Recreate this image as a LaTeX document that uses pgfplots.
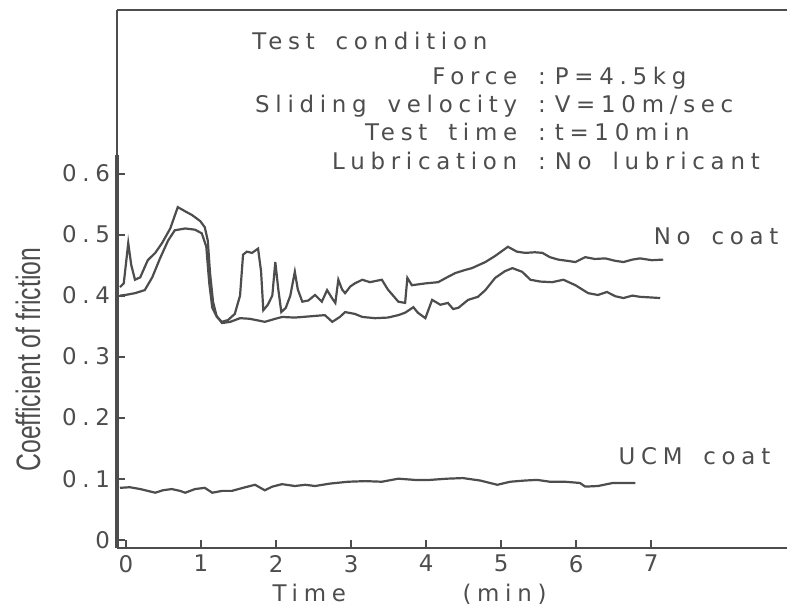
\documentclass[border=0pt]{standalone}
\usepackage{fontspec}
\usepackage{graphicx}
\setmainfont{DejaVu Sans}[LetterSpace=25, WordSpace=1.6]
\newfontfamily\labelfont{Liberation Sans}
\usepackage{pgfplots}
\pgfplotsset{compat=1.18}
\definecolor{ink}{HTML}{4D4D4D}
\pgfplotsset{trace/.style={ink, line width=1.1bp, mark=none}}

\begin{document}
\begin{tikzpicture}
\begin{axis}[
    name=ax,
    scale only axis, width=335bp, height=269bp,
    xmin=-0.12, xmax=8.81, ymin=-0.0136, ymax=0.868,
    axis x line*=bottom, axis y line*=left,
    axis line style={-},
    x axis line style={ink, line width=1.3bp},
    y axis line style={ink, line width=1bp},
    xtick={0,...,7},
    ytick={0,0.1,0.2,0.3,0.4,0.5,0.6},
    xticklabel={\pgfmathprintnumber[assume math mode=true]{\tick}},
    yticklabel={\pgfmathprintnumber[fixed, precision=1, assume math mode=true]{\tick}},
    tick align=inside, major tick length=4bp,
    tick style={ink, line width=1bp},
    ticklabel style={font=\fontsize{11.5}{13}\selectfont, text=ink},
    clip=false,
]
% upper "No coat" trace
\addplot[trace] coordinates {
(-0.08,0.414) (-0.03,0.42) (0.03,0.486) (0.07,0.45) (0.12,0.426) (0.19,0.43)
(0.29,0.458) (0.39,0.47) (0.48,0.486) (0.59,0.51) (0.69,0.545) (0.79,0.538)
(0.88,0.532) (0.99,0.522) (1.05,0.512) (1.09,0.49) (1.12,0.437) (1.16,0.39)
(1.21,0.365) (1.28,0.357) (1.36,0.36) (1.45,0.37) (1.52,0.40) (1.56,0.467)
(1.61,0.472) (1.68,0.47) (1.76,0.477) (1.80,0.44) (1.83,0.376) (1.89,0.385)
(1.95,0.40) (1.99,0.455) (2.03,0.41) (2.07,0.373) (2.13,0.38) (2.19,0.40)
(2.25,0.439) (2.29,0.41) (2.35,0.39) (2.43,0.392) (2.52,0.401) (2.61,0.39)
(2.68,0.409) (2.75,0.395) (2.79,0.388) (2.83,0.426) (2.88,0.41) (2.92,0.404)
(2.99,0.415) (3.05,0.42) (3.15,0.426) (3.25,0.422) (3.41,0.426) (3.49,0.41)
(3.63,0.39) (3.72,0.388) (3.75,0.429) (3.81,0.417) (3.99,0.42) (4.16,0.422)
(4.28,0.43) (4.39,0.437) (4.52,0.442) (4.61,0.445) (4.79,0.455) (4.92,0.465)
(5.09,0.48) (5.21,0.472) (5.32,0.47) (5.45,0.471) (5.55,0.47) (5.65,0.463)
(5.76,0.459) (5.88,0.457) (5.99,0.455) (6.12,0.463) (6.25,0.46) (6.39,0.461)
(6.52,0.457) (6.63,0.455) (6.75,0.459) (6.85,0.461) (7.01,0.458) (7.16,0.459)
};
% lower "No coat" trace
\addplot[trace] coordinates {
(-0.08,0.40) (-0.01,0.401) (0.12,0.404) (0.25,0.409) (0.35,0.43) (0.45,0.46)
(0.56,0.49) (0.65,0.507) (0.79,0.51) (0.92,0.508) (1.01,0.502) (1.07,0.48)
(1.11,0.42) (1.15,0.38) (1.20,0.368) (1.28,0.355) (1.39,0.357) (1.52,0.363)
(1.65,0.362) (1.85,0.357) (1.99,0.362) (2.08,0.365) (2.25,0.364) (2.45,0.366)
(2.65,0.368) (2.75,0.357) (2.85,0.365) (2.92,0.373) (3.05,0.37) (3.15,0.365)
(3.32,0.363) (3.49,0.364) (3.63,0.368) (3.72,0.372) (3.83,0.381) (3.89,0.372)
(3.99,0.363) (4.08,0.393) (4.19,0.385) (4.29,0.388) (4.36,0.378) (4.43,0.38)
(4.56,0.393) (4.69,0.398) (4.79,0.409) (4.92,0.429) (5.05,0.44) (5.15,0.445)
(5.28,0.439) (5.39,0.426) (5.52,0.423) (5.68,0.422) (5.83,0.426) (5.99,0.417)
(6.16,0.404) (6.29,0.401) (6.41,0.406) (6.52,0.399) (6.63,0.396) (6.75,0.40)
(6.85,0.398) (6.99,0.397) (7.12,0.396)
};
% UCM coat
\addplot[trace] coordinates {
(-0.08,0.085) (0.05,0.086) (0.19,0.083) (0.29,0.08) (0.39,0.077) (0.49,0.081)
(0.61,0.083) (0.72,0.08) (0.79,0.077) (0.92,0.083) (1.05,0.085) (1.15,0.077)
(1.28,0.08) (1.41,0.08) (1.59,0.086) (1.72,0.09) (1.85,0.081) (1.95,0.087)
(2.08,0.091) (2.25,0.088) (2.39,0.09) (2.52,0.088) (2.72,0.092) (2.96,0.095)
(3.19,0.096) (3.41,0.095) (3.63,0.10) (3.85,0.098) (4.05,0.098) (4.28,0.10)
(4.49,0.101) (4.72,0.097) (4.85,0.093) (4.95,0.09) (5.12,0.095) (5.32,0.097)
(5.48,0.098) (5.65,0.095) (5.85,0.095) (6.05,0.093) (6.12,0.087) (6.29,0.088)
(6.49,0.093) (6.65,0.093) (6.79,0.093)
};
% frame pieces
\draw[ink, line width=1bp] (rel axis cs:0,1) -- (rel axis cs:1,1);
\draw[ink, line width=2.4bp] (axis cs:-0.12,-0.0136) -- (axis cs:-0.12,0.63);
% texts
\begin{scope}[every node/.style={inner sep=0pt, text=ink, font=\fontsize{11.5}{13}\selectfont}]
\node[anchor=base west] at (axis cs:1.68,0.804) {Test condition};
\node[anchor=base east] at (axis cs:5.60,0.746) {Force :};
\node[anchor=base west] at (axis cs:5.71,0.746) {P=4.5kg};
\node[anchor=base east] at (axis cs:5.60,0.700) {Sliding velocity :};
\node[anchor=base west] at (axis cs:5.71,0.700) {V=10m/sec};
\node[anchor=base east] at (axis cs:5.60,0.654) {Test time :};
\node[anchor=base west] at (axis cs:5.71,0.654) {t=10min};
\node[anchor=base east] at (axis cs:5.60,0.607) {Lubrication :};
\node[anchor=base west] at (axis cs:5.71,0.607) {No lubricant};
\node[anchor=base west] at (axis cs:7.03,0.484) {No coat};
\node[anchor=base west] at (axis cs:6.56,0.1225) {UCM coat};
\node[anchor=base west] at (axis cs:1.95,-0.102) {Time};
\node[anchor=base west] at (axis cs:4.48,-0.102) {(min)};
\node[rotate=90, anchor=center] at (axis cs:-1.307,0.295)
  {\labelfont\fontsize{17}{20}\selectfont\scalebox{0.73}[1]{Coefficient of friction}};
\end{scope}
\end{axis}
\pgfresetboundingbox
\path[use as bounding box] ([xshift=-58.5bp,yshift=-30.5bp]ax.south west) rectangle ([yshift=5bp]ax.north east);
\end{tikzpicture}
\end{document}
